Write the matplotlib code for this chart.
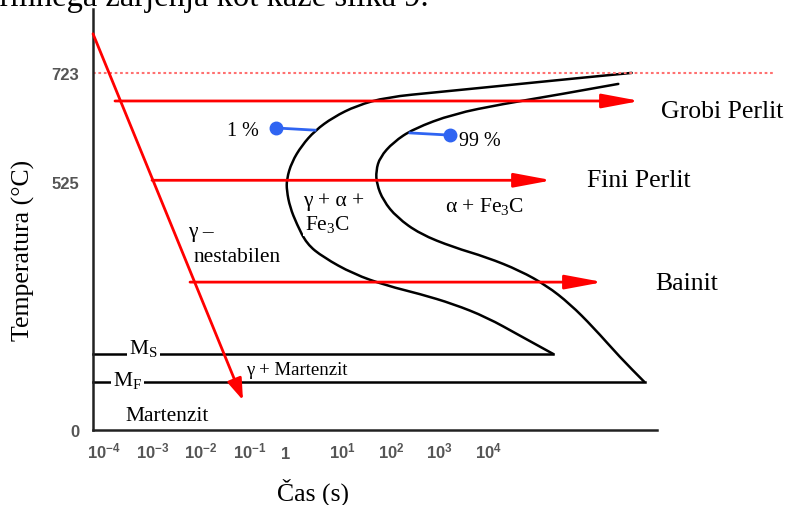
import numpy as np
import matplotlib.pyplot as plt
from matplotlib.path import Path
from matplotlib.patches import PathPatch

# TTT diagram (schematic); x = log10(t / s), y = temperature in °C
outer_logt = [7.231, 5.959, 4.584, 3.210, 2.179, 1.561, 1.078, 0.701, 0.427, 0.221, 0.118, 0.118,
              0.186, 0.324, 0.530, 0.872, 1.491, 2.179, 2.866, 3.553, 4.241, 4.928, 5.614]
outer_T = [723, 712.1, 699.9, 687.9, 678.9, 663.6, 642.5, 618.2, 590.9, 560.8, 530.4, 506.6,
           471.4, 436.1, 393.8, 365.6, 330.3, 305.5, 287.9, 266.7, 238.6, 199.6, 160.9]

inner_logt = [6.955, 5.614, 4.584, 3.553, 2.728, 2.315, 2.041, 1.959, 1.973, 2.109,
              2.386, 2.866, 3.553, 4.241, 4.928, 5.478, 5.959, 6.439, 6.990, 7.490]
inner_T = [703.0, 681.8, 666.7, 648.5, 621.3, 597.1, 569.9, 545.5, 520.8, 485.4,
           450.3, 414.9, 386.8, 365.6, 337.2, 305.5, 266.7, 217.4, 153.9, 102]

cool_logt = [-3.876, -0.784]
cool_T = [794, 63]

iso_names = ["Grobi Perlit", "Fini Perlit", "Bainit"]
iso_T = [672, 528, 313]
iso_start = [-3.423, -2.660, -1.876]
iso_end = [7.402, 5.588, 6.639]

A1 = 723
Ms, Mf = 161, 102
ms_end, mf_end = 5.614, 7.505

pct_labels = ["1 %", "99 %"]
pct_dot = [(-0.103, 623), (3.485, 610)]
pct_curve = [(0.701, 619), (2.660, 614)]

y_ticks = [0, 525, 723]
x_ticks = [-4, -3, -2, -1, 0, 1, 2, 3, 4]
x_ticklabels = [r"$10^{-4}$", r"$10^{-3}$", r"$10^{-2}$", r"$10^{-1}$", "1",
                r"$10^{1}$", r"$10^{2}$", r"$10^{3}$", r"$10^{4}$"]

plt.rcParams["font.family"] = "Liberation Serif"
plt.rcParams["mathtext.default"] = "regular"

# temperature axis is not linear in the drawing (0-525 vs 525-723)
T_knots = [-2000, 0, 525, 723, 3000]
pos_knots = [-944.8, 0, 248, 357, 1610.5]


def fwd(v):
    return np.interp(v, T_knots, pos_knots)


def inv(v):
    return np.interp(v, pos_knots, T_knots)


def smooth_path(xs, ys):
    # quadratic B-spline through the read points, drawn as bezier pieces
    pts = np.column_stack([xs, ys])
    verts = [pts[0]]
    codes = [Path.MOVETO]
    for i in range(1, len(pts) - 1):
        verts += [pts[i], (pts[i] + pts[i + 1]) / 2]
        codes += [Path.CURVE3, Path.CURVE3]
    verts.append(pts[-1])
    codes.append(Path.LINETO)
    return Path(verts, codes)


fig = plt.figure(figsize=(7.88, 5.06), dpi=100)
ax = fig.add_axes([0.0914, 0.1482, 0.9086, 0.832])
ax.set_yscale("function", functions=(fwd, inv))
ax.set_xlim(-4.309, 10.454)
ax.set_ylim(0, 839)

x0 = cool_logt[0]
ax.spines["left"].set_position(("data", x0))
ax.spines["bottom"].set_bounds(x0, 7.753)
ax.spines["top"].set_visible(False)
ax.spines["right"].set_visible(False)
for s in ["left", "bottom"]:
    ax.spines[s].set_linewidth(1.8)
    ax.spines[s].set_color("#222222")

ax.set_yticks(y_ticks)
ax.set_yticklabels([str(v) for v in y_ticks], fontfamily="Liberation Sans",
                   fontweight="bold", fontsize=12, color="#555555")
ax.set_xticks(x_ticks)
ax.set_xticklabels(x_ticklabels, fontfamily="Liberation Sans", fontweight="bold",
                   fontsize=12, color="#555555", ha="left", va="baseline")
ax.tick_params(axis="y", length=0, pad=10)
ax.tick_params(axis="x", length=0, pad=20)

# A1 line
ax.plot([x0, 10.144], [A1, A1], color="#ff7070", lw=1.5, dashes=(1.3, 1.3))

# transformation curves (start 1 %, end 99 %)
for xs, ys in [(outer_logt, outer_T), (inner_logt, inner_T)]:
    ax.add_patch(PathPatch(smooth_path(xs, ys), fill=False, edgecolor="black",
                           lw=1.8, capstyle="round", joinstyle="round"))

# Ms / Mf
ax.plot([x0, ms_end], [Ms, Ms], color="black", lw=1.8)
ax.plot([x0, mf_end], [Mf, Mf], color="black", lw=1.8)

# cooling + isothermal arrows
ax.annotate("", xy=(cool_logt[1], cool_T[1]), xytext=(cool_logt[0], cool_T[0]),
            arrowprops=dict(arrowstyle="-|>,head_length=1.3,head_width=0.45",
                            color="red", lw=2, mutation_scale=10,
                            shrinkA=0, shrinkB=0))
for name, T, a, b in zip(iso_names, iso_T, iso_start, iso_end):
    ax.annotate("", xy=(b, T), xytext=(a, T),
                arrowprops=dict(arrowstyle="-|>,head_length=2.3,head_width=0.43",
                                color="red", lw=2, mutation_scale=10,
                                shrinkA=0, shrinkB=0))

# 1 % / 99 % markers
for (dx, dT), (cx, cT) in zip(pct_dot, pct_curve):
    ax.plot([dx, cx], [dT, cT], color="#2f64f2", lw=2)
    ax.plot(dx, dT, "o", color="#2f64f2", ms=9)

white = dict(facecolor="white", edgecolor="none", pad=1.5)
ax.text(-1.113, 610, pct_labels[0], fontsize=14.5, va="baseline")
ax.text(3.670, 592, pct_labels[1], fontsize=14.5, va="baseline")
ax.text(0.454, 476, "γ + α +", fontsize=15.5, va="baseline", bbox=white)
ax.text(0.495, 425.5, "Fe$_3$C", fontsize=15.5, va="baseline", bbox=white)
ax.text(3.381, 463.6, "α + Fe$_3$C", fontsize=15.5, va="baseline")
ax.text(-1.918, 410.7, "γ –", fontsize=15.5, va="baseline")
ax.text(-1.794, 357.8, "nestabilen", fontsize=15.5, va="baseline", bbox=white)
ax.text(-3.134, 163, "M$_S$", fontsize=15.5, va="baseline", bbox=white)
ax.text(-3.464, 95, "M$_F$", fontsize=15.5, va="baseline", bbox=white)
ax.text(-0.722, 118.5, "γ + Martenzit", fontsize=13.5, va="baseline")
ax.text(-3.216, 21, "Martenzit", fontsize=15.5, va="baseline")

iso_label_pos = [(7.835, 643), (6.309, 516.5), (7.711, 298.5)]
for name, (lx, ly) in zip(iso_names, iso_label_pos):
    ax.text(lx, ly, name, fontsize=18.5, va="baseline")

fig.text(23 / 788, 1 - 250 / 506, "Temperatura (°C)", rotation=90, fontsize=18.5,
         ha="center", va="center")
fig.text(313 / 788, 1 - 501 / 506, "Čas (s)", fontsize=18.5, ha="center", va="baseline")

# cut-off line of body text at the top of the page
fig.text(429 / 788, 1 - 6 / 506, "izotermnega žarjenja kot kaže slika 9.",
         fontsize=23.5, ha="right", va="baseline")

fig.savefig("out.png", dpi=100)
